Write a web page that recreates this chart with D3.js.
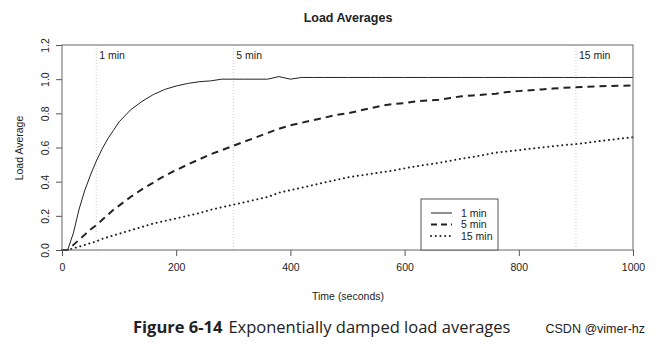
<!DOCTYPE html>
<html>
<head>
<meta charset="utf-8">
<script src="https://cdn.jsdelivr.net/npm/d3@7"></script>
<style>
  body { margin: 0; background: #fff; }
  svg { display: block; }
  text { font-family: "Liberation Sans", Arial, sans-serif; fill: #222; }
</style>
</head>
<body>
<div id="chart"></div>
<script>
// sample times (seconds)
var times = [0, 10, 20, 30, 40, 50, 60, 70, 80, 90, 100,
  120, 140, 160, 180, 200, 220, 240, 260, 280, 300,
  320, 340, 360, 380, 400, 420, 440, 460, 480, 500,
  520, 540, 560, 580, 600, 620, 640, 660, 680, 700,
  720, 740, 760, 780, 800, 820, 840, 860, 880, 900,
  920, 940, 960, 980, 1000];

var load1 = [0, 0, 0.1, 0.24, 0.35, 0.44, 0.52, 0.59, 0.65, 0.70, 0.75,
  0.82, 0.87, 0.91, 0.94, 0.96, 0.975, 0.985, 0.99, 1.0, 1.0,
  1.0, 1.0, 1.0, 1.015, 1.0, 1.01, 1.01, 1.01, 1.01, 1.01,
  1.01, 1.01, 1.01, 1.01, 1.01, 1.01, 1.01, 1.01, 1.01, 1.01,
  1.01, 1.01, 1.01, 1.01, 1.01, 1.01, 1.01, 1.01, 1.01, 1.01,
  1.01, 1.01, 1.01, 1.01, 1.01];

var load5 = [0, 0, 0.03, 0.06, 0.09, 0.12, 0.145, 0.175, 0.205, 0.235, 0.26,
  0.31, 0.355, 0.395, 0.435, 0.468, 0.50, 0.53, 0.56, 0.585, 0.61,
  0.635, 0.66, 0.685, 0.71, 0.73, 0.745, 0.76, 0.775, 0.79, 0.80,
  0.815, 0.83, 0.845, 0.855, 0.86, 0.87, 0.875, 0.88, 0.89, 0.90,
  0.905, 0.91, 0.915, 0.925, 0.93, 0.935, 0.94, 0.945, 0.95, 0.952,
  0.955, 0.958, 0.96, 0.962, 0.963];

var load15 = [0, 0, 0.01, 0.02, 0.03, 0.04, 0.05, 0.065, 0.075, 0.085, 0.095,
  0.115, 0.135, 0.155, 0.17, 0.185, 0.2, 0.215, 0.235, 0.25, 0.265,
  0.28, 0.295, 0.31, 0.335, 0.35, 0.365, 0.38, 0.395, 0.41, 0.425,
  0.435, 0.445, 0.455, 0.465, 0.478, 0.49, 0.50, 0.51, 0.522, 0.535,
  0.545, 0.557, 0.57, 0.578, 0.585, 0.593, 0.60, 0.608, 0.615, 0.62,
  0.628, 0.637, 0.645, 0.653, 0.66];

var xTicks = [0, 200, 400, 600, 800, 1000];
var yTicks = [0.0, 0.2, 0.4, 0.6, 0.8, 1.0, 1.2];
var markers = [60, 300, 900];
var markerLabels = ['1 min', '5 min', '15 min'];
var seriesNames = ['1 min', '5 min', '15 min'];

var W = 657, H = 344;
var m = {left: 62, right: 24, top: 45, bottom: 94};

var svg = d3.select('#chart').append('svg').attr('width', W).attr('height', H);

var x = d3.scaleLinear().domain([0, 1000]).range([m.left, W - m.right]);
var y = d3.scaleLinear().domain([0, 1.2]).range([H - m.bottom, m.top]);

var styles = [
  {width: 1, dash: null, cap: 'butt'},
  {width: 2, dash: '7,5', cap: 'butt'},
  {width: 2, dash: '0.1,4.6', cap: 'round'}
];

// title
svg.append('text').attr('x', 348).attr('y', 22).attr('text-anchor', 'middle')
  .style('font-size', '12.5px').style('font-weight', 'bold').text('Load Averages');

// reference lines for each time constant
svg.selectAll('.marker').data(markers).enter().append('line')
  .attr('x1', function(d) { return x(d); }).attr('x2', function(d) { return x(d); })
  .attr('y1', y(1.2)).attr('y2', y(0))
  .attr('stroke', '#bbb').attr('stroke-width', 0.8).attr('stroke-dasharray', '1,2');
svg.selectAll('.markerLabel').data(markers).enter().append('text')
  .attr('x', function(d) { return x(d) + 3; }).attr('y', 59)
  .style('font-size', '10.5px')
  .text(function(d, i) { return markerLabels[i]; });

// curves
var line = d3.line()
  .x(function(d) { return x(d[0]); })
  .y(function(d) { return y(d[1]); });

[load1, load5, load15].forEach(function(vals, i) {
  svg.append('path')
    .datum(times.map(function(t, j) { return [t, vals[j]]; }))
    .attr('d', line)
    .attr('fill', 'none')
    .attr('stroke', '#222')
    .attr('stroke-width', styles[i].width)
    .attr('stroke-linecap', styles[i].cap)
    .attr('stroke-dasharray', styles[i].dash);
});

// plot frame
svg.append('rect')
  .attr('x', x(0)).attr('y', y(1.2))
  .attr('width', x(1000) - x(0)).attr('height', y(0) - y(1.2))
  .attr('fill', 'none').attr('stroke', '#666').attr('stroke-width', 1);

// axes (the frame already draws the axis lines)
var xAxis = svg.append('g').attr('transform', 'translate(0,' + y(0) + ')')
  .call(d3.axisBottom(x).tickValues(xTicks).tickSize(6).tickSizeOuter(0).tickPadding(8)
    .tickFormat(d3.format('d')));
var yAxis = svg.append('g').attr('transform', 'translate(' + x(0) + ',0)')
  .call(d3.axisLeft(y).tickValues(yTicks).tickSize(6).tickSizeOuter(0).tickFormat(d3.format('.1f')));

[xAxis, yAxis].forEach(function(g) {
  g.select('.domain').remove();
  g.selectAll('.tick line').attr('stroke', '#555');
  g.selectAll('.tick text').style('font-size', '10.5px')
    .style('font-family', '"Liberation Sans", Arial, sans-serif').attr('fill', '#222');
});
yAxis.selectAll('.tick text')
  .attr('text-anchor', 'middle')
  .attr('x', 0).attr('dy', 0)
  .attr('transform', function() { return 'translate(-13,0) rotate(-90)'; });

// axis titles
svg.append('text').attr('x', 348).attr('y', 300).attr('text-anchor', 'middle')
  .style('font-size', '10.5px').text('Time (seconds)');
svg.append('text').attr('transform', 'translate(23,' + 148 + ') rotate(-90)')
  .attr('text-anchor', 'middle').style('font-size', '10.5px').text('Load Average');

// legend
var lg = svg.append('g');
lg.append('rect').attr('x', 421).attr('y', 199).attr('width', 77).attr('height', 51)
  .attr('fill', '#fff').attr('stroke', '#555').attr('stroke-width', 1);
seriesNames.forEach(function(name, i) {
  var ly = 213 + i * 11.5;
  lg.append('line').attr('x1', 431).attr('x2', 452).attr('y1', ly).attr('y2', ly)
    .attr('stroke', '#222')
    .attr('stroke-width', styles[i].width)
    .attr('stroke-linecap', styles[i].cap)
    .attr('stroke-dasharray', i === 1 ? '6,4' : styles[i].dash);
  lg.append('text').attr('x', 461).attr('y', ly + 3.5).style('font-size', '10.5px').text(name);
});

// caption
var cap = svg.append('text').attr('x', 133).attr('y', 333)
  .style('font-family', '"Open Sans", "Noto Sans", sans-serif').style('font-size', '16.5px').attr('fill', '#111');
cap.append('tspan').style('font-weight', 'bold').text('Figure 6-14');
cap.append('tspan').attr('dx', 6).text('Exponentially damped load averages');

svg.append('text').attr('x', 645).attr('y', 333).attr('text-anchor', 'end')
  .style('font-size', '12.5px').attr('fill', '#aaa').style('font-family', '"Liberation Sans", Arial, sans-serif')
  .text('CSDN @vimer-hz');
</script>
</body>
</html>
